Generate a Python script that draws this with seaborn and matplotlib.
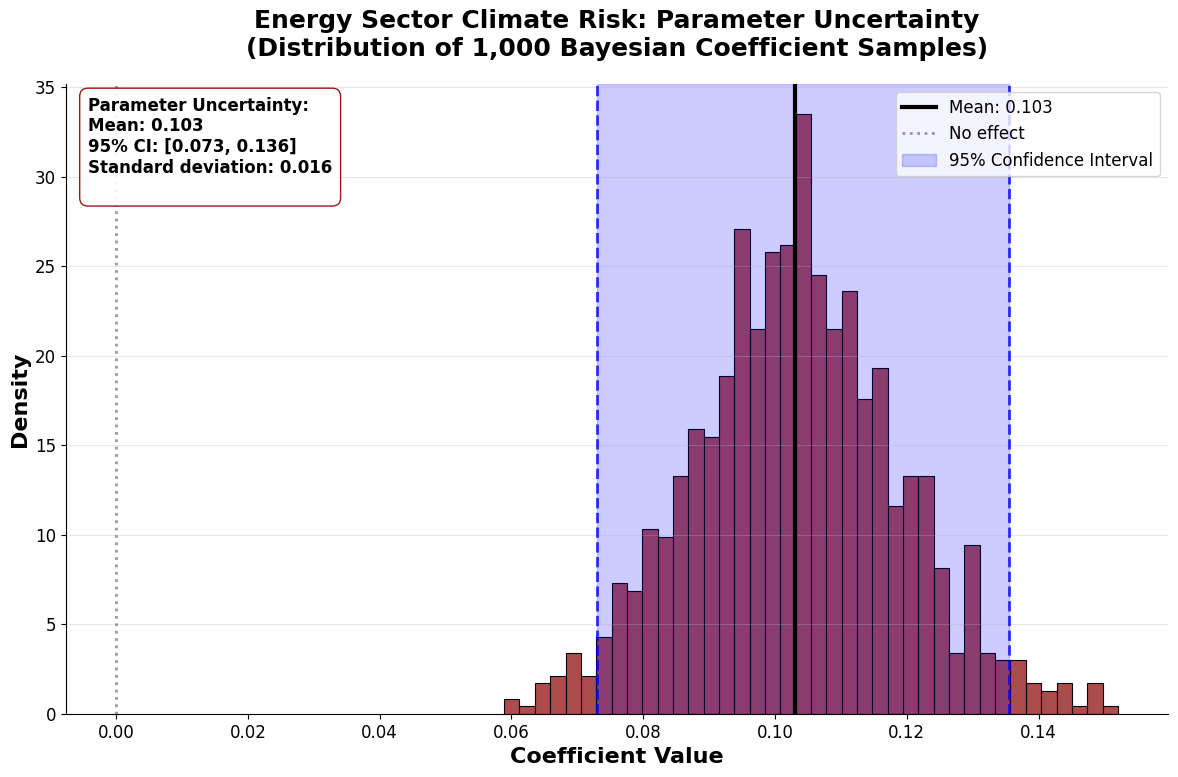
import numpy as np
import pandas as pd
import matplotlib
matplotlib.use("Agg")
import matplotlib.pyplot as plt
import seaborn as sns

# histogram: 40 bins, counts out of 1,000 samples
bin_lo = 0.05889
bin_hi = 0.15203
counts = [2, 1, 4, 5, 8, 5, 10, 17, 16, 24,
          23, 31, 37, 36, 44, 63, 50, 60, 61, 78,
          57, 50, 55, 41, 45, 27, 31, 31, 19, 8,
          22, 8, 7, 7, 4, 3, 4, 1, 4, 1]

mean_val = 0.1031
ci_low = 0.0730
ci_high = 0.1355
std_val = 0.016

edges = np.linspace(bin_lo, bin_hi, len(counts) + 1)
centers = (edges[:-1] + edges[1:]) / 2
df = pd.DataFrame({"coef": centers, "n": counts})

plt.rcParams['font.family'] = ['DejaVu Sans']

fig, ax = plt.subplots(figsize=(11.78, 7.77), dpi=100)

sns.histplot(data=df, x="coef", weights="n", bins=len(counts),
             binrange=(bin_lo, bin_hi), stat="density",
             color="darkred", alpha=0.7, edgecolor="black", linewidth=0.8, ax=ax)

ax.axvline(mean_val, color="black", linewidth=3, label=f"Mean: {mean_val:.3f}")
ax.axvline(0, color="gray", linestyle=":", linewidth=2, alpha=0.8, label="No effect")
ax.axvspan(ci_low, ci_high, color="blue", alpha=0.2, label="95% Confidence Interval")
ax.axvline(ci_low, color="blue", linestyle="--", linewidth=2, alpha=0.8)
ax.axvline(ci_high, color="blue", linestyle="--", linewidth=2, alpha=0.8)

ax.set_title("Energy Sector Climate Risk: Parameter Uncertainty\n"
             "(Distribution of 1,000 Bayesian Coefficient Samples)",
             fontsize=18, fontweight="bold", pad=20)
ax.set_xlabel("Coefficient Value", fontsize=16, fontweight="bold")
ax.set_ylabel("Density", fontsize=16, fontweight="bold")
ax.tick_params(labelsize=12)
ax.grid(axis="y", alpha=0.3)
ax.legend(fontsize=12, loc="upper right")
sns.despine(ax=ax)

txt = (f"Parameter Uncertainty:\nMean: {mean_val:.3f}\n"
       f"95% CI: [{ci_low:.3f}, {ci_high:.3f}]\n"
       f"Standard deviation: {std_val:.3f}\n")
ax.text(0.02, 0.98, txt, transform=ax.transAxes, fontsize=12, fontweight="bold",
        va="top", ha="left",
        bbox=dict(boxstyle="round,pad=0.5", facecolor="white", edgecolor="darkred", alpha=0.9))

fig.subplots_adjust(left=0.056, right=0.9915, top=0.892, bottom=0.081)
fig.savefig("out.png", dpi=100)
